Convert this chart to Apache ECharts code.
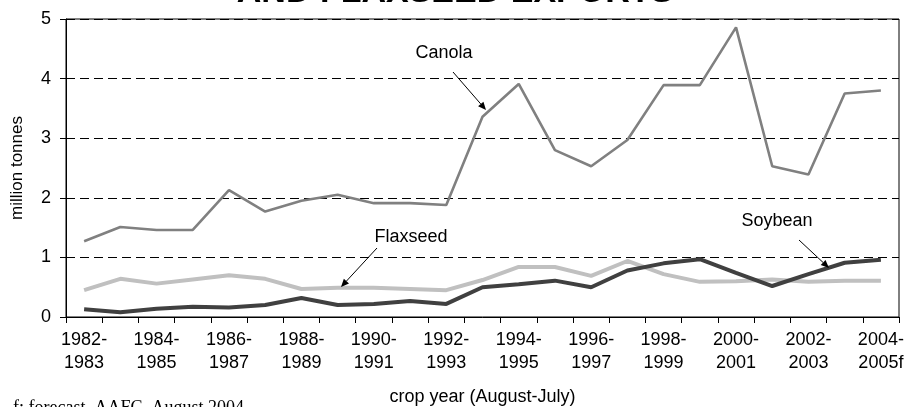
<!DOCTYPE html>
<html>
<head>
<meta charset="utf-8">
<script src="https://cdn.jsdelivr.net/npm/echarts@6/dist/echarts.min.js"></script>
<style>
  html, body { margin: 0; padding: 0; background: #fff; }
  #main { width: 909px; height: 407px; }
</style>
</head>
<body>
<div id="main"></div>
<script>
// crop years, Aug-Jul
var years = ['1982-1983', '1983-1984', '1984-1985', '1985-1986', '1986-1987', '1987-1988',
  '1988-1989', '1989-1990', '1990-1991', '1991-1992', '1992-1993', '1993-1994', '1994-1995',
  '1995-1996', '1996-1997', '1997-1998', '1998-1999', '1999-2000', '2000-2001', '2001-2002',
  '2002-2003', '2003-2004', '2004-2005f'];

// million tonnes
var canola = [1.27, 1.51, 1.46, 1.46, 2.13, 1.77, 1.95, 2.05, 1.91, 1.91, 1.88, 3.36,
  3.91, 2.80, 2.53, 2.97, 3.89, 3.89, 4.86, 2.53, 2.39, 3.75, 3.80];
var flaxseed = [0.45, 0.64, 0.56, 0.63, 0.70, 0.64, 0.47, 0.49, 0.49, 0.47, 0.45, 0.62,
  0.84, 0.84, 0.69, 0.94, 0.72, 0.59, 0.60, 0.63, 0.59, 0.61, 0.61];
var soybean = [0.13, 0.08, 0.14, 0.17, 0.16, 0.20, 0.32, 0.20, 0.22, 0.27, 0.22, 0.50,
  0.55, 0.61, 0.50, 0.78, 0.90, 0.97, 0.74, 0.52, 0.72, 0.91, 0.96];

var yTicks = [0, 1, 2, 3, 4, 5];

var chart = echarts.init(document.getElementById('main'));

var sans = 'Liberation Sans, Arial, sans-serif';

// arrow helper: line + small filled head
function arrow(x1, y1, x2, y2) {
  var a = Math.atan2(y2 - y1, x2 - x1);
  var L = 8, W = 3.5;
  var bx = x2 - L * Math.cos(a), by = y2 - L * Math.sin(a);
  var px = -Math.sin(a) * W, py = Math.cos(a) * W;
  return [
    { type: 'line', shape: { x1: x1, y1: y1, x2: bx, y2: by }, style: { stroke: '#000', lineWidth: 1 }, z: 100 },
    { type: 'polygon', shape: { points: [[x2, y2], [bx + px, by + py], [bx - px, by - py]] }, style: { fill: '#000' }, z: 100 }
  ];
}

function label(text, x, y) {
  return {
    type: 'text', x: x, y: y, z: 100,
    style: { text: text, font: '18px ' + sans, fill: '#000', align: 'center', verticalAlign: 'middle' }
  };
}

var graphics = [
  {
    type: 'text', x: 455, y: -7,
    style: { text: 'AND FLAXSEED EXPORTS', font: 'bold 34px ' + sans, fill: '#000', align: 'center', verticalAlign: 'middle' }
  },
  {
    type: 'text', x: 13, y: 408,
    style: { text: 'f: forecast, AAFC, August 2004', font: '18px Liberation Serif, Times New Roman, serif', fill: '#000', align: 'left', verticalAlign: 'middle' }
  },
  label('Canola', 444, 53),
  label('Flaxseed', 411, 237),
  label('Soybean', 777, 221)
].concat(arrow(453, 72, 486, 110))
 .concat(arrow(377, 248, 341, 287))
 .concat(arrow(799, 240, 829, 268));

var option = {
  animation: false,
  backgroundColor: '#fff',
  grid: {
    left: 66, top: 19, right: 10, bottom: 90,
    containLabel: false,
    outerBoundsMode: 'none',
    show: true, borderColor: '#000', borderWidth: 1
  },
  xAxis: {
    type: 'category',
    data: years,
    boundaryGap: true,
    name: 'crop year (August-July)',
    nameLocation: 'middle',
    nameGap: 71,
    nameTextStyle: { fontFamily: sans, fontSize: 18, color: '#000' },
    axisLine: { lineStyle: { color: '#000', width: 1 } },
    axisTick: { show: true, interval: 0, length: 6, inside: false, lineStyle: { color: '#000' } },
    axisLabel: {
      interval: 1,
      margin: 12,
      fontFamily: sans, fontSize: 18, color: '#000', lineHeight: 23,
      formatter: function (v) { return v.replace('-', '-\n'); }
    },
    splitLine: { show: false }
  },
  yAxis: {
    type: 'value',
    min: yTicks[0], max: yTicks[yTicks.length - 1], interval: 1,
    name: 'million tonnes',
    nameLocation: 'middle',
    nameGap: 40,
    nameRotate: 90,
    nameTextStyle: { fontFamily: sans, fontSize: 17, color: '#000' },
    axisLine: { show: true, lineStyle: { color: '#000', width: 1 } },
    axisTick: { show: true, length: 6, lineStyle: { color: '#000' } },
    axisLabel: { margin: 15, fontFamily: sans, fontSize: 18, color: '#000' },
    splitLine: { show: true, lineStyle: { color: '#000', type: [9, 5], width: 1 } }
  },
  series: [
    {
      name: 'Canola', type: 'line', data: canola, symbol: 'none',
      lineStyle: { color: '#808080', width: 2.6 }
    },
    {
      name: 'Flaxseed', type: 'line', data: flaxseed, symbol: 'none',
      lineStyle: { color: '#c0c0c0', width: 4 }
    },
    {
      name: 'Soybean', type: 'line', data: soybean, symbol: 'none',
      lineStyle: { color: '#404040', width: 4 }
    }
  ],
  graphic: graphics
};

chart.setOption(option);
</script>
</body>
</html>
